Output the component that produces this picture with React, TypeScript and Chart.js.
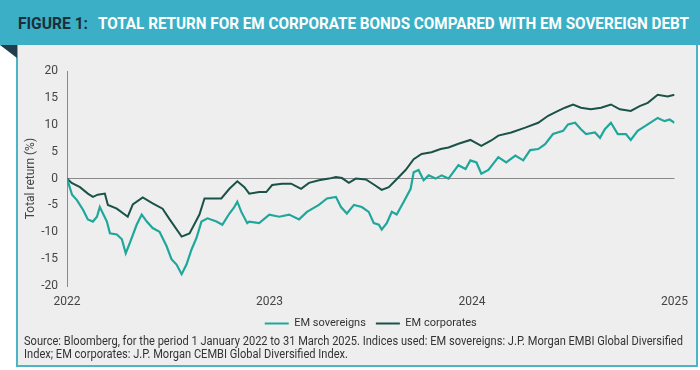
import React, { useEffect, useRef } from "react";
import { Chart, registerables } from "chart.js";

Chart.register(...registerables);

// ---- data ----
const yearLabels = ["2022", "2023", "2024", "2025"];
const seriesNames = ["EM sovereigns", "EM corporates"];

// time in years since 1 Jan 2022
const sovTimes = [
  0.0, 0.025, 0.049, 0.079, 0.103, 0.128, 0.148, 0.162, 0.197, 0.212, 0.246, 0.271, 0.29, 0.31,
  0.344, 0.369, 0.394, 0.423, 0.457, 0.492, 0.516, 0.541, 0.566, 0.59, 0.615, 0.639, 0.664, 0.694,
  0.738, 0.767, 0.802, 0.826, 0.841, 0.861, 0.89, 0.9, 0.949, 0.999, 1.048, 1.097, 1.146, 1.185,
  1.244, 1.284, 1.328, 1.353, 1.382, 1.417, 1.456, 1.49, 1.515, 1.54, 1.554, 1.579, 1.604, 1.628,
  1.663, 1.697, 1.712, 1.736, 1.761, 1.786, 1.82, 1.85, 1.884, 1.933, 1.968, 1.992, 2.022, 2.046,
  2.081, 2.13, 2.169, 2.214, 2.253, 2.287, 2.327, 2.361, 2.4, 2.45, 2.474, 2.509, 2.538, 2.563,
  2.607, 2.632, 2.656, 2.686, 2.72, 2.76, 2.784, 2.818, 2.868, 2.917, 2.951, 2.976, 3.0,
];
const sovValues = [
  0, -3.0, -4.0, -5.8, -7.6, -8.0, -7.1, -5.3, -8.0, -10.2, -10.4, -11.3, -13.9, -12.0,
  -8.6, -6.7, -8.0, -9.2, -9.9, -12.6, -15.0, -16.0, -17.8, -16.0, -13.2, -11.1, -8.0, -7.4,
  -8.0, -8.6, -6.5, -5.3, -4.3, -6.2, -8.3, -8.0, -8.3, -6.7, -7.1, -6.7, -7.6, -6.2,
  -4.9, -3.7, -3.4, -5.3, -6.5, -4.9, -5.3, -6.2, -8.3, -8.6, -9.5, -8.3, -6.2, -6.7,
  -4.3, -1.9, 1.2, 1.6, -0.3, 0.6, 0.0, 0.6, 0.0, 2.5, 1.8, 3.4, 3.0, 0.9,
  1.6, 4.0, 3.0, 4.3, 3.4, 5.3, 5.5, 6.4, 8.3, 8.9, 10.1, 10.4, 9.2, 8.3,
  8.6, 7.6, 9.2, 10.4, 8.3, 8.3, 7.2, 8.9, 10.1, 11.3, 10.7, 11.0, 10.4,
];

const corpTimes = [
  0.0, 0.023, 0.064, 0.103, 0.128, 0.152, 0.187, 0.202, 0.246, 0.3, 0.325, 0.374, 0.423, 0.472,
  0.507, 0.566, 0.605, 0.654, 0.679, 0.718, 0.762, 0.802, 0.841, 0.876, 0.9, 0.949, 0.984, 1.013,
  1.062, 1.107, 1.156, 1.195, 1.244, 1.294, 1.328, 1.358, 1.392, 1.426, 1.476, 1.515, 1.554, 1.589,
  1.623, 1.672, 1.712, 1.751, 1.8, 1.845, 1.884, 1.933, 1.992, 2.046, 2.095, 2.13, 2.194, 2.263,
  2.327, 2.376, 2.425, 2.459, 2.499, 2.538, 2.587, 2.637, 2.686, 2.73, 2.784, 2.828, 2.868, 2.917,
  2.966, 3.0,
];
const corpValues = [
  0, -0.8, -1.6, -2.8, -3.4, -3.0, -2.8, -4.9, -5.6, -7.1, -4.8, -3.5, -4.6, -5.6,
  -7.6, -10.8, -10.2, -6.7, -3.7, -3.7, -3.7, -1.9, -0.5, -1.6, -2.8, -2.5, -2.5, -1.2,
  -0.95, -0.95, -1.9, -0.8, -0.3, 0.0, 0.3, 0.1, -0.8, 0.0, -0.15, -1.1, -2.1, -1.6,
  -0.3, 1.6, 3.6, 4.6, 4.9, 5.5, 5.8, 6.5, 7.2, 6.1, 7.1, 8.0, 8.6, 9.5,
  10.4, 11.7, 12.6, 13.2, 13.8, 13.2, 12.9, 13.2, 13.8, 12.9, 12.6, 13.5, 14.1, 15.6,
  15.3, 15.6,
];

const titleLead = "FIGURE 1:";
const titleText = "TOTAL RETURN FOR EM CORPORATE BONDS COMPARED WITH EM SOVEREIGN DEBT";
const sourceLines = [
  "Source: Bloomberg, for the period 1 January 2022 to 31 March 2025. Indices used: EM sovereigns: J.P. Morgan EMBI Global Diversified",
  "Index; EM corporates: J.P. Morgan CEMBI Global Diversified Index.",
];

const SOV_COLOR = "#20a79b";
const CORP_COLOR = "#1b5247";
const FONT = "Roboto, 'Liberation Sans', sans-serif";

function ChartCanvas() {
  const ref = useRef<HTMLCanvasElement | null>(null);
  useEffect(() => {
    if (!ref.current) return;
    const chart = new Chart(ref.current, {
      type: "line",
      data: {
        datasets: [
          {
            label: seriesNames[0],
            data: sovTimes.map((t, i) => ({ x: t, y: sovValues[i] })),
            borderColor: SOV_COLOR,
            backgroundColor: SOV_COLOR,
            borderWidth: 2.2,
            pointRadius: 0,
            tension: 0,
          },
          {
            label: seriesNames[1],
            data: corpTimes.map((t, i) => ({ x: t, y: corpValues[i] })),
            borderColor: CORP_COLOR,
            backgroundColor: CORP_COLOR,
            borderWidth: 2,
            pointRadius: 0,
            tension: 0,
          },
        ],
      },
      options: {
        responsive: false,
        animation: false,
        devicePixelRatio: 1,
        layout: { padding: { top: 13, right: 20, left: 0, bottom: 0 } },
        scales: {
          x: {
            type: "linear",
            min: 0,
            max: 3,
            grid: { display: false, drawTicks: false },
            border: { display: false },
            ticks: {
              stepSize: 1,
              autoSkip: false,
              maxRotation: 0,
              padding: 9,
              color: "#444",
              font: { family: FONT, size: 12 },
              callback: (v: any) => yearLabels[Number(v)] ?? "",
            },
            afterFit: (s: any) => {
              s.height = 22;
            },
          },
          y: {
            min: -20,
            max: 20,
            grid: {
              drawTicks: false,
              color: (c: any) => (c.tick && c.tick.value === 0 ? "#8a8a8a" : "rgba(0,0,0,0)"),
              lineWidth: 1,
            },
            border: { display: true, color: "#8a8a8a", width: 1 },
            ticks: {
              stepSize: 5,
              padding: 9,
              color: "#444",
              font: { family: FONT, size: 12 },
            },
            title: {
              display: true,
              text: "Total return (%)",
              color: "#444",
              font: { family: FONT, size: 12 },
              padding: { top: 7, bottom: 0 },
            },
            afterFit: (s: any) => {
              s.width = 50;
            },
          },
        },
        plugins: {
          legend: {
            position: "bottom",
            fullSize: false,
            labels: {
              font: { family: FONT, size: 11 },
              color: "#333",
              boxWidth: 24,
              boxHeight: 2,
              padding: 10,
              generateLabels: (ch: any) =>
                ch.data.datasets.map((d: any, i: number) => ({
                  text: d.label,
                  fillStyle: d.borderColor,
                  strokeStyle: d.borderColor,
                  lineWidth: 0,
                  fontColor: "#333",
                  datasetIndex: i,
                  hidden: false,
                })),
            },
          },
          tooltip: { enabled: false },
        },
      },
    });
    return () => chart.destroy();
  }, []);
  return (
    <canvas
      ref={ref}
      width={680}
      height={284}
      style={{ position: "absolute", left: 17, top: 55, width: 680, height: 284 }}
    />
  );
}

export default function App() {
  return (
    <div
      style={{
        position: "fixed",
        left: 0,
        top: 0,
        width: 700,
        height: 370,
        background: "#ffffff",
        overflow: "hidden",
        fontFamily: FONT,
      }}
    >
      <div
        style={{
          position: "absolute",
          left: 16,
          top: 45,
          width: 682,
          height: 322,
          background: "#eeeeee",
          borderLeft: "2px solid #4db4c8",
          borderRight: "2px solid #4db4c8",
          borderBottom: "2px solid #4db4c8",
          boxSizing: "border-box",
        }}
      />
      <div
        style={{
          position: "absolute",
          left: 0,
          top: 45,
          width: 17,
          height: 13,
          background: "#1f3d4c",
          clipPath: "polygon(0 0, 100% 0, 100% 100%)",
        }}
      />
      <div
        style={{
          position: "absolute",
          left: 0,
          top: 0,
          width: 700,
          height: 45,
          background: "#3aafc5",
        }}
      />
      <svg width={700} height={45} style={{ position: "absolute", left: 0, top: 0 }}>
        <text
          x={18}
          y={28.5}
          fontFamily={FONT}
          fontWeight="bold"
          fontSize={16}
          fill="#1b2e3a"
          textLength={70}
          lengthAdjust="spacingAndGlyphs"
        >
          {titleLead}
        </text>
        <text
          x={98}
          y={28.5}
          fontFamily={FONT}
          fontWeight="bold"
          fontSize={16}
          fill="#ffffff"
          textLength={591}
          lengthAdjust="spacingAndGlyphs"
        >
          {titleText}
        </text>
      </svg>
      <ChartCanvas />
      <svg width={700} height={40} style={{ position: "absolute", left: 0, top: 330 }}>
        <text
          x={24}
          y={14.5}
          fontFamily={FONT}
          fontSize={12}
          fill="#333"
          textLength={659}
          lengthAdjust="spacingAndGlyphs"
        >
          {sourceLines[0]}
        </text>
        <text
          x={24}
          y={27.5}
          fontFamily={FONT}
          fontSize={12}
          fill="#333"
          textLength={324}
          lengthAdjust="spacingAndGlyphs"
        >
          {sourceLines[1]}
        </text>
      </svg>
    </div>
  );
}
